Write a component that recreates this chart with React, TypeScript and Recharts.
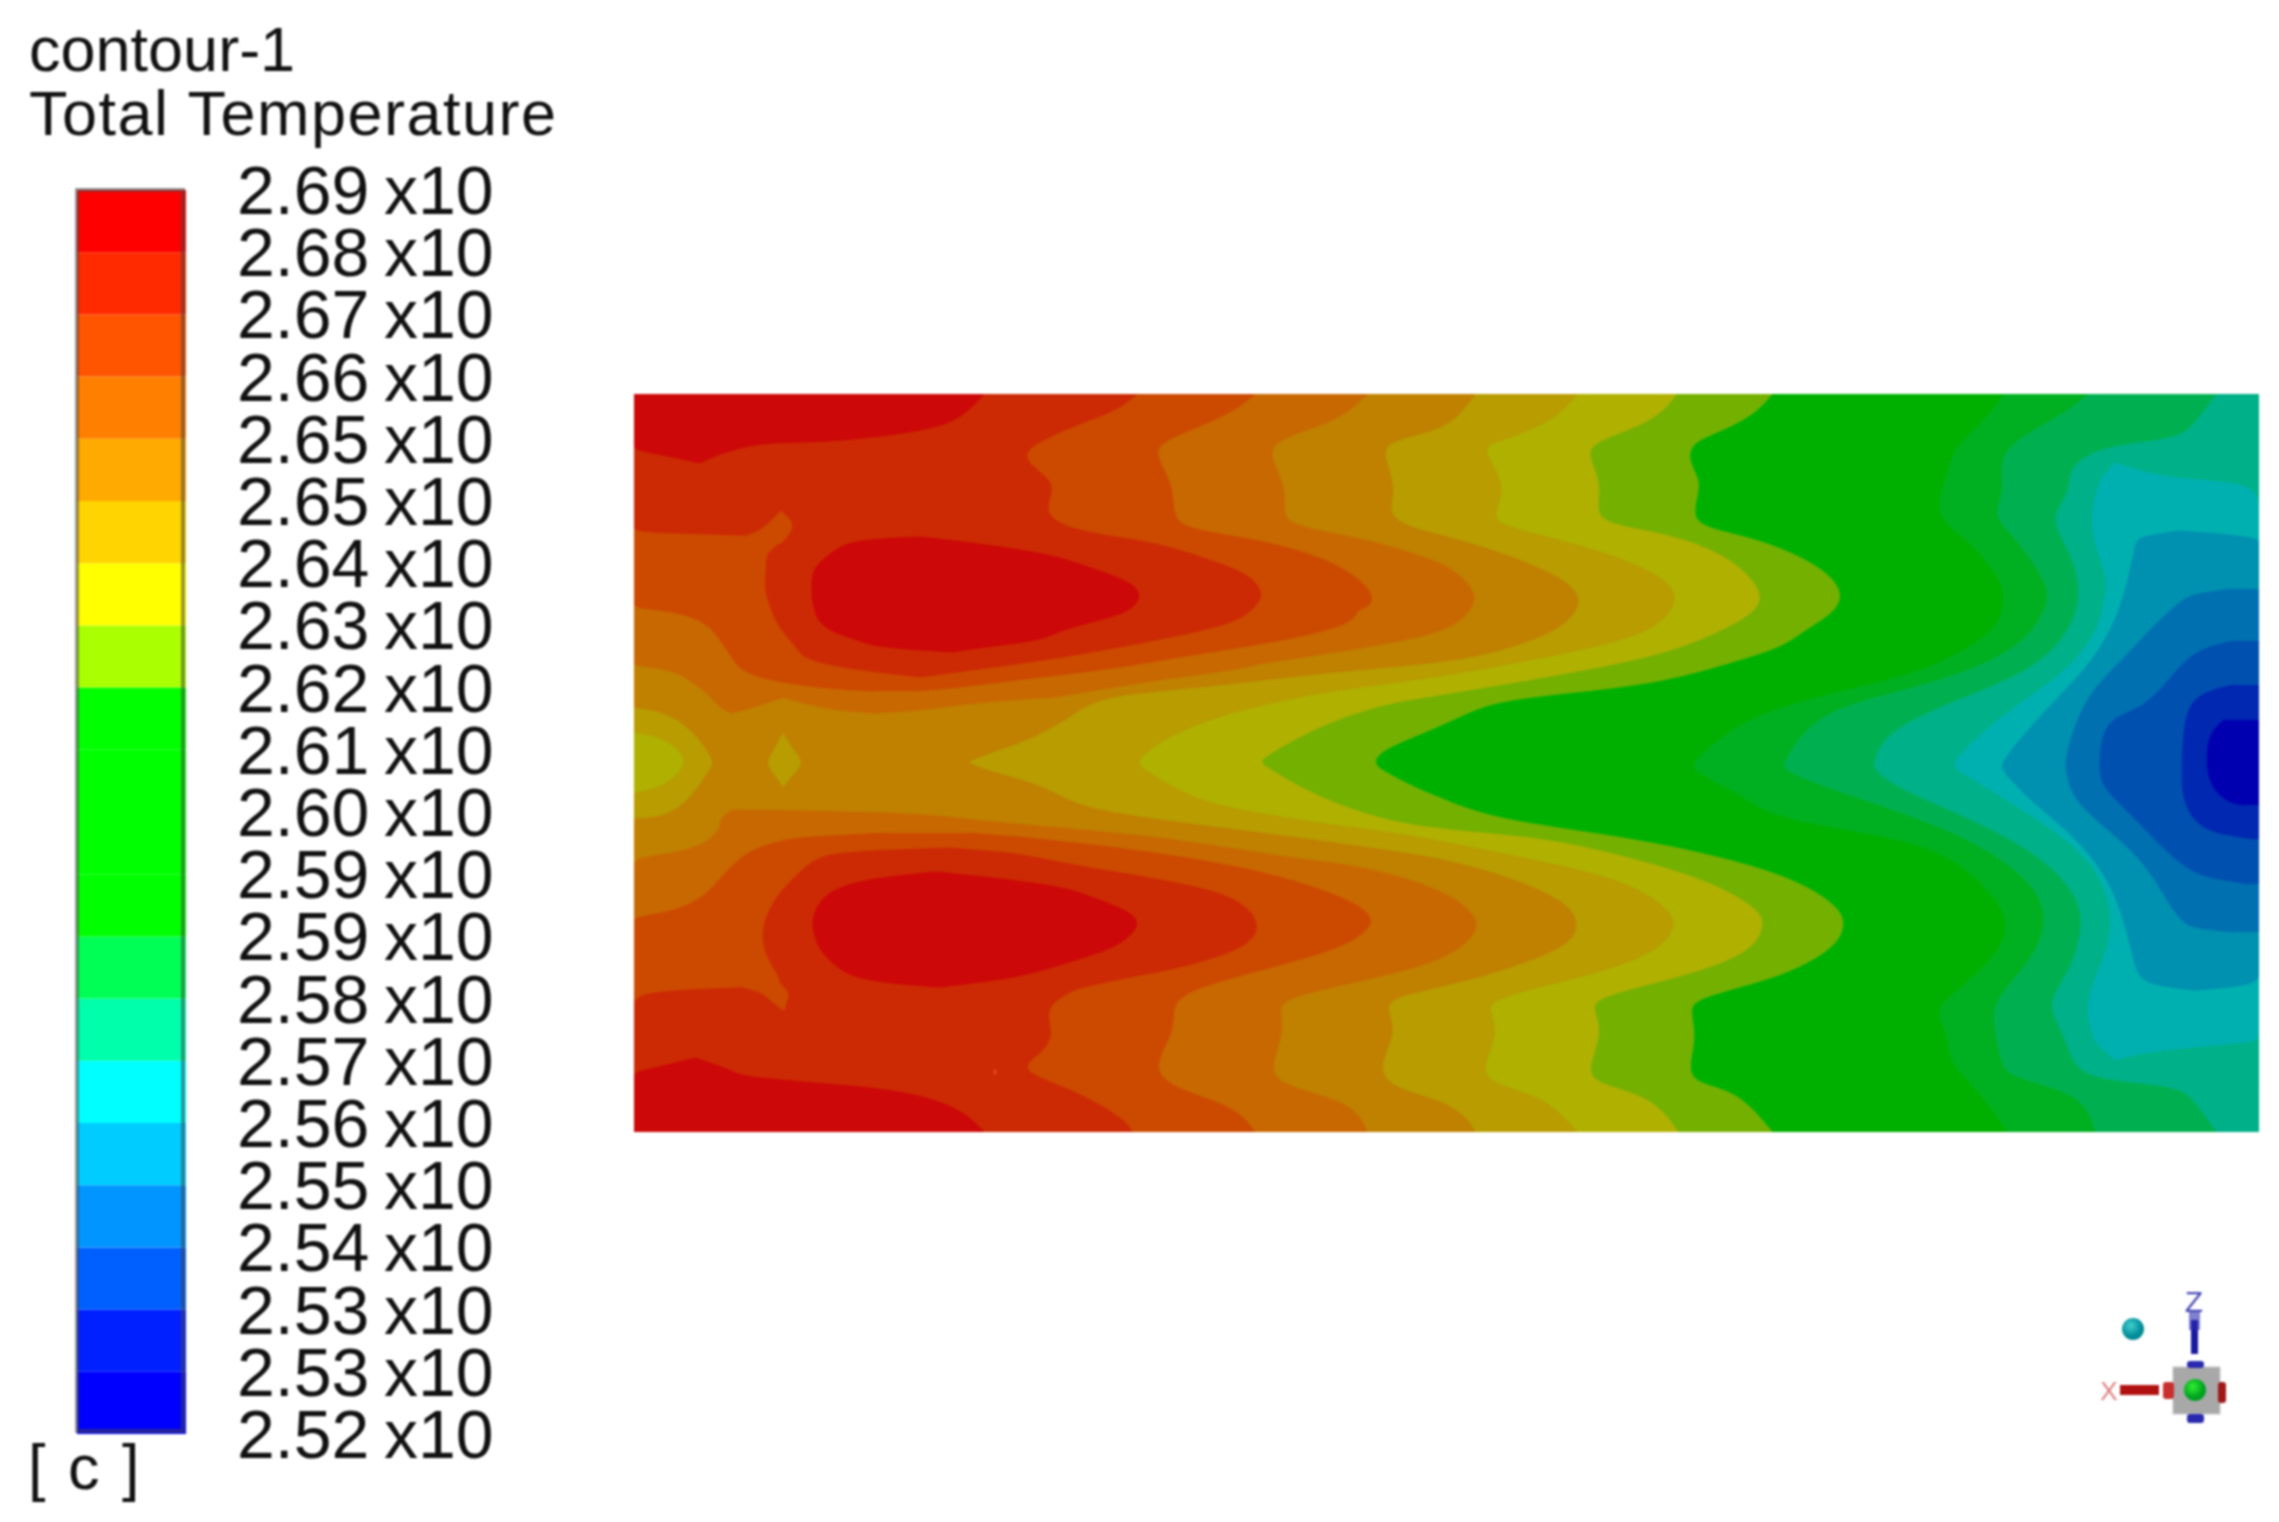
import { AreaChart, Area, BarChart, Bar, XAxis, YAxis } from "recharts"

// every contour row is [distance from top wall, band start, band end]
type Row = [number, number, number]

const ductLength = 1625
const ductHeight = 738

const tickLabels = [
  "2.69", "2.68", "2.67", "2.66", "2.65", "2.65", "2.64", "2.63", "2.62", "2.61", "2.60",
  "2.59", "2.59", "2.58", "2.57", "2.56", "2.55", "2.54", "2.53", "2.53", "2.52",
]
const legendColors = [
  "#ff0000", "#ff2a00", "#ff5500", "#ff8000", "#ffaa00", "#ffd400", "#ffff00", "#aaff00",
  "#00ff00", "#00ff00", "#00ff00", "#00ff00", "#00ff55", "#00ffaa", "#00ffff", "#00ccff",
  "#0095ff", "#0060ff", "#0020ff", "#0000ff",
]

// cold side, open towards the outlet
const base9: Row[] = [[0, 0, 1625], [738, 0, 1625]]
const cold10: Row[] = [[0,1371,1625],[36,1342,1625],[53,1320,1625],[86,1312,1625],[123,1299,1625],[146,1336,1625],[186,1368,1625],[209,1371,1625],[236,1363,1625],[263,1320,1625],[283,1272,1625],[303,1181,1625],[326,1106,1625],[369,1058,1625],[376,1058,1625],[403,1111,1625],[423,1138,1625],[439,1234,1625],[456,1315,1625],[509,1368,1625],[533,1374,1625],[563,1363,1625],[603,1315,1625],[616,1301,1625],[643,1315,1625],[669,1315,1625],[693,1342,1625],[738,1374,1625]]
const cold11: Row[] = [[0,1454,1625],[19,1433,1625],[49,1374,1625],[73,1366,1625],[99,1371,1625],[123,1358,1625],[143,1382,1625],[186,1411,1625],[206,1417,1625],[246,1395,1625],[276,1342,1625],[299,1261,1625],[319,1181,1625],[369,1149,1625],[376,1149,1625],[393,1192,1625],[416,1261,1625],[446,1342,1625],[493,1406,1625],[533,1414,1625],[569,1395,1625],[603,1363,1625],[626,1358,1625],[669,1368,1625],[683,1374,1625],[699,1449,1625],[738,1462,1625]]
const cold12: Row[] = [[0,1583,1625],[29,1561,1625],[46,1545,1625],[51,1470,1625],[73,1433,1625],[99,1438,1625],[123,1414,1625],[159,1438,1625],[203,1449,1625],[243,1433,1625],[279,1395,1625],[309,1315,1625],[339,1250,1625],[369,1240,1625],[376,1240,1625],[396,1267,1625],[433,1358,1625],[473,1422,1625],[509,1446,1625],[533,1449,1625],[576,1438,1625],[609,1411,1625],[639,1430,1625],[669,1438,1625],[686,1459,1625],[691,1545,1625],[707,1561,1625],[738,1583,1625]]
const cold13: Row[] = [[69,1481,1481],[81,1470,1518],[86,1467,1560],[90,1465,1625],[119,1457,1625],[146,1459,1625],[186,1475,1625],[203,1470,1625],[239,1465,1625],[283,1427,1625],[316,1374,1625],[369,1315,1625],[376,1323,1625],[419,1395,1625],[453,1443,1625],[486,1470,1625],[533,1481,1625],[576,1465,1625],[609,1451,1625],[643,1459,1625],[648,1462,1625],[656,1470,1518],[666,1481,1481]]
const cold14: Row[] = [[137,1545,1545],[143,1505,1625],[149,1502,1625],[173,1497,1625],[219,1486,1625],[269,1459,1625],[316,1411,1625],[369,1366,1625],[376,1368,1625],[406,1395,1625],[443,1443,1625],[493,1481,1625],[553,1497,1625],[576,1502,1625],[588,1510,1625],[593,1534,1600],[596,1560,1560]]
const cold15: Row[] = [[195,1600,1625],[200,1560,1625],[206,1548,1625],[233,1518,1625],[263,1492,1625],[303,1449,1625],[369,1430,1625],[376,1433,1625],[409,1438,1625],[456,1502,1625],[500,1530,1625],[531,1548,1625],[535,1570,1625],[538,1600,1625]]
const cold16: Row[] = [[247,1600,1625],[252,1577,1625],[263,1551,1625],[316,1513,1625],[323,1470,1625],[369,1465,1625],[393,1467,1625],[419,1497,1625],[479,1551,1625],[486,1590,1625],[490,1615,1625]]
const cold17: Row[] = [[291,1600,1625],[296,1577,1625],[309,1551,1625],[369,1548,1625],[409,1548,1625],[436,1567,1625],[442,1600,1625],[445,1620,1625]]
const cold18: Row[] = [[326,1590,1625],[339,1575,1625],[369,1572,1625],[393,1577,1625],[408,1593,1625],[411,1610,1625]]

// hot side, open towards the inlet
const hot8: Row[] = [[0,0,1138],[19,0,1122],[36,0,1090],[49,0,1055],[69,0,1055],[86,0,1066],[103,0,1063],[126,0,1058],[136,0,1079],[146,0,1127],[169,0,1181],[193,0,1208],[216,0,1205],[236,0,1170],[253,0,1149],[269,0,1095],[286,0,1036],[296,0,967],[306,0,860],[323,0,826],[339,0,789],[356,0,747],[369,0,739],[376,0,747],[393,0,779],[404,0,806],[426,0,860],[443,0,993],[466,0,1101],[489,0,1170],[516,0,1208],[533,0,1210],[553,0,1202],[583,0,1149],[603,0,1063],[616,0,1055],[643,0,1063],[679,0,1052],[691,0,1068],[699,0,1106],[738,0,1138]]
const hot7: Row[] = [[0,0,1042],[16,0,1031],[33,0,1004],[48,0,959],[61,0,953],[93,0,969],[123,0,959],[133,0,988],[143,0,1047],[166,0,1101],[199,0,1130],[219,0,1122],[243,0,1074],[263,0,1020],[283,0,913],[301,0,806],[310,0,745],[333,0,682],[363,0,629],[369,0,626],[376,0,637],[403,0,682],[426,0,747],[436,0,806],[444,0,913],[463,0,993],[486,0,1074],[516,0,1127],[533,0,1130],[559,0,1117],[583,0,1047],[603,0,961],[616,0,959],[639,0,969],[679,0,951],[691,0,967],[704,0,1020],[738,0,1044]]
const hot6: Row[] = [[0,0,943],[23,0,924],[43,0,881],[49,0,852],[63,0,852],[93,0,873],[123,0,857],[133,0,870],[156,0,967],[183,0,1031],[203,0,1044],[229,0,1031],[249,0,983],[268,0,886],[284,0,800],[296,0,700],[309,0,634],[326,0,570],[350,0,520],[369,0,500],[376,0,511],[399,0,548],[413,0,586],[429,0,682],[439,0,763],[449,0,815],[463,0,886],[486,0,993],[516,0,1036],[533,0,1042],[556,0,1026],[579,0,967],[603,0,859],[616,0,854],[639,0,865],[676,0,846],[691,0,860],[704,0,913],[738,0,943]]
const hot5: Row[] = [[0,0,841],[19,0,827],[36,0,806],[46,0,757],[59,0,747],[93,0,763],[119,0,752],[133,0,773],[141,0,806],[156,0,860],[183,0,929],[206,0,951],[236,0,929],[259,0,860],[269,0,806],[279,0,682],[293,0,575],[301,0,468],[319,0,441],[343,0,404],[366,0,334],[369,0,334],[376,0,350],[393,0,414],[413,0,441],[426,0,522],[439,0,629],[454,0,736],[464,0,806],[483,0,876],[509,0,935],[531,0,945],[553,0,935],[579,0,860],[593,0,806],[603,0,757],[616,0,752],[639,0,763],[676,0,741],[696,0,763],[706,0,806],[723,0,833],[738,0,841]]
const hot4Top: Row[] = [[0,0,733],[23,0,709],[36,0,672],[49,0,637],[66,0,637],[96,0,653],[123,0,647],[134,0,666],[146,0,736],[163,0,789],[172,0,815],[199,0,846],[223,0,833],[239,0,806],[253,0,736],[269,0,629],[271,0,620],[276,40,600],[286,55,522],[293,66,480],[304,78,414]]
const hot4ToothA: Row[] = [[304,78,147],[313,85,120],[319,98,98]]
const hot4ToothB: Row[] = [[303,147,414],[309,170,334],[316,200,290],[319,240,240]]
const hot4Bottom: Row[] = [[416,98,100],[419,94,286],[426,85,334],[433,88,414],[443,78,522],[449,72,560],[459,45,629],[464,0,655],[473,0,736],[498,0,815],[523,0,843],[539,0,843],[564,0,815],[583,0,746],[603,0,650],[616,0,645],[639,0,650],[676,0,634],[693,0,650],[709,0,720],[738,0,733]]
const hot3Top: Row[] = [[0,0,621],[16,0,602],[33,0,564],[49,0,524],[63,0,522],[93,0,540],[123,0,538],[136,0,554],[146,0,629],[166,0,698],[193,0,736],[209,0,739],[214,0,730],[217,42,722],[229,74,720],[246,86,656],[263,98,543],[273,104,490],[279,115,441],[285,130,390],[294,184,320],[297,240,280]]
const hot3Bottom: Row[] = [[439,254,334],[443,173,385],[446,150,414],[456,115,505],[476,93,629],[503,72,710],[518,40,733],[523,0,735],[529,0,739],[549,0,720],[569,0,656],[596,0,548],[616,0,538],[639,0,540],[676,0,516],[696,0,543],[713,0,602],[738,0,621]]
const hot2Top: Row[] = [[0,0,503],[16,0,484],[29,0,447],[43,0,414],[61,0,382],[83,0,414],[96,0,420],[119,0,409],[133,0,431],[139,0,460],[141,148,468],[149,147,522],[159,133,555],[166,133,575],[179,132,613],[193,131,625],[203,133,629],[223,140,613],[236,147,575],[256,165,470],[263,168,430],[273,200,361],[283,286,286]]
const hot2Bottom: Row[] = [[454,318,318],[456,254,340],[459,200,380],[466,180,414],[476,168,468],[489,155,548],[503,142,602],[526,130,626],[549,128,620],[566,135,575],[576,141,535],[583,145,495],[594,150,445],[596,0,440],[613,0,409],[639,0,420],[659,0,409],[676,0,380],[696,0,441],[726,0,492],[738,0,498]]
const finger3Top: Row[] = [[117,147,147],[126,138,157],[133,131,158],[139,122,156],[146,100,150],[150,90,146]]
const finger3Bottom: Row[] = [[588,90,145],[592,105,148],[598,128,155],[606,136,153],[616,149,150]]
const hot1Top: Row[] = [[0,0,350],[23,0,329],[36,0,297],[46,0,216],[48,0,175],[49,0,125],[56,0,100],[60,25,85],[69,66,66]]
const hot1Upper: Row[] = [[143,286,286],[146,216,315],[159,197,414],[174,179,457],[189,178,500],[203,178,508],[219,181,495],[229,186,452],[239,200,420],[246,225,409],[253,240,350],[258,318,318]]
const hot1Lower: Row[] = [[478,302,302],[484,240,361],[493,205,431],[504,188,460],[519,180,500],[533,178,506],[553,184,484],[566,195,441],[583,215,388],[590,260,330],[593,307,307]]
const hot1Bottom: Row[] = [[664,61,61],[672,30,85],[678,0,100],[683,0,109],[691,0,205],[694,0,240],[701,0,286],[716,0,329],[738,0,350]]

// cooler pockets at the inlet on the centreline
const inlet6: Row[] = [[314,0,0],[319,0,34],[339,0,61],[369,0,82],[376,0,74],[406,0,56],[423,0,29],[424,0,0]]
const inlet7: Row[] = [[339,0,0],[344,0,29],[359,0,48],[369,0,50],[376,0,46],[389,0,34],[396,0,13],[398,0,0]]
const diamond6: Row[] = [[339,149,149],[355,141,158],[369,131,171],[381,141,158],[393,149,149]]
const speck: Row[] = [[675,361,361],[678,358,364],[681,361,361]]

const C1 = "#cc0808"
const C2 = "#cc2a04"
const C3 = "#cc4a00"
const C4 = "#c86800"
const C5 = "#c08000"
const C6 = "#b89c00"
const C7 = "#b0b000"
const C8 = "#74b000"
const C9 = "#00b000"

// back to front
const layers: [Row[], string][] = [
  [base9, C9],
  [cold10, "#00b020"], [cold11, "#00b050"], [cold12, "#00b088"], [cold13, "#00b0b0"],
  [cold14, "#0090b0"], [cold15, "#0070b0"], [cold16, "#0050b0"], [cold17, "#0028b0"], [cold18, "#0000b0"],
  [hot8, C8], [hot7, C7], [hot6, C6], [hot5, C5],
  [hot4Top, C4], [hot4ToothA, C4], [hot4ToothB, C4], [hot4Bottom, C4],
  [hot3Top, C3], [hot3Bottom, C3],
  [hot2Top, C2], [hot2Bottom, C2],
  [finger3Top, C3], [finger3Bottom, C3],
  [hot1Top, C1], [hot1Upper, C1], [hot1Lower, C1], [hot1Bottom, C1],
  [inlet6, C6], [inlet7, C7], [diamond6, C6], [speck, "#e04020"],
]

const legendRow: Record<string, number | string> = { name: "c" }
legendColors.forEach((_, i) => { legendRow["s" + i] = 1 })

const font = "'Liberation Sans', Arial, sans-serif"

function LegendTick({ x, y, payload }: any) {
  const label = tickLabels[20 - payload.value]
  return (
    <text x={x + 43} y={y + 24} fontFamily={font} fontSize={68} fill="#111">
      <tspan>{label}</tspan>
      <tspan x={x + 190}>x10</tspan>
    </text>
  )
}

function Triad() {
  return (
    <svg width={229} height={170} style={{ position: "absolute", left: 2050, top: 1270 }}>
      <defs>
        <radialGradient id="teal" cx="40%" cy="35%"><stop offset="0%" stopColor="#40d0d0" /><stop offset="100%" stopColor="#008a96" /></radialGradient>
        <radialGradient id="lime" cx="40%" cy="35%"><stop offset="0%" stopColor="#30f030" /><stop offset="100%" stopColor="#00a020" /></radialGradient>
      </defs>
      <circle cx={83} cy={59} r={11} fill="url(#teal)" />
      <rect x={123} y={97} width={47} height={47} fill="#a8a8a8" stroke="#c8c8c8" />
      <rect x={137} y={91} width={17} height={7} rx={3} fill="#2a2ab0" />
      <rect x={137} y={144} width={17} height={9} rx={3} fill="#2a2ab0" />
      <rect x={113} y={112} width={11} height={17} rx={3} fill="#c83030" />
      <rect x={168} y={112} width={8} height={21} rx={3} fill="#a01818" />
      <circle cx={145} cy={120} r={11} fill="url(#lime)" />
      <rect x={141} y={50} width={7} height={34} fill="#1a1aa0" />
      <rect x={139} y={42} width={11} height={18} fill="#2a2ab0" opacity={0.6} />
      <rect x={70} y={115} width={39} height={10} fill="#b01010" />
      <text x={144} y={42} textAnchor="middle" fontFamily={font} fontSize={30} fill="#4848b8">Z</text>
      <text x={59} y={130} textAnchor="middle" fontFamily={font} fontSize={26} fill="#e08080">X</text>
    </svg>
  )
}

export default function App() {
  return (
    <div style={{ position: "absolute", left: 0, top: 0, width: 2279, height: 1522, background: "#fff", overflow: "hidden", filter: "blur(0.8px)" }}>
      <div style={{ position: "absolute", left: 29, top: 17, fontFamily: font, fontSize: 63, lineHeight: "64px", color: "#111", whiteSpace: "nowrap" }}>
        <div>contour-1</div>
        <div style={{ letterSpacing: 1.5 }}>Total Temperature</div>
      </div>
      <div style={{ position: "absolute", left: 28, top: 1432, fontFamily: font, fontSize: 63, lineHeight: "70px", color: "#111", whiteSpace: "pre", wordSpacing: 5 }}>
        {"[ c ]"}
      </div>

      <div style={{ position: "absolute", left: 75, top: 150 }}>
        <BarChart width={441} height={1324} data={[legendRow]} margin={{ top: 40, bottom: 40, left: 2, right: 0 }} barCategoryGap={0}>
          <XAxis dataKey="name" hide />
          <YAxis
            orientation="right"
            width={330}
            type="number"
            domain={[0, 20]}
            ticks={tickLabels.map((_, i) => i)}
            interval={0}
            axisLine={false}
            tickLine={false}
            tick={<LegendTick />}
          />
          {[...legendColors].reverse().map((c, i) => (
            <Bar key={i} dataKey={"s" + i} stackId="bar" fill={c} isAnimationActive={false} />
          ))}
        </BarChart>
      </div>
      <div style={{ position: "absolute", left: 75, top: 188, width: 110, height: 1245, boxSizing: "border-box", border: "4px solid rgba(70,70,70,0.55)" }} />

      <div style={{ position: "absolute", left: 634, top: 394 }}>
        <AreaChart layout="vertical" width={ductLength} height={ductHeight} margin={{ top: 0, right: 0, bottom: 0, left: 0 }}>
          <XAxis type="number" domain={[0, ductLength]} hide />
          <YAxis type="number" dataKey="y" domain={[0, ductHeight]} hide />
          {layers.map(([rows, color], i) => (
            <Area
              key={i}
              data={rows.map(([y, from, to]) => ({ y, band: [from, to] }))}
              dataKey="band"
              type="basis"
              fill={color}
              fillOpacity={1}
              stroke={color}
              strokeWidth={1}
              dot={false}
              activeDot={false}
              isAnimationActive={false}
            />
          ))}
        </AreaChart>
      </div>

      <Triad />
    </div>
  )
}
